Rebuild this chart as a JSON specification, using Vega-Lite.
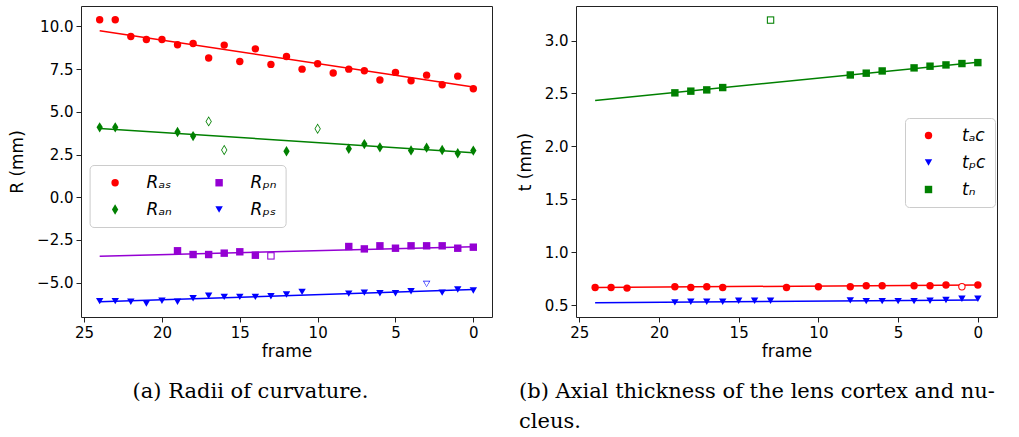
{
  "$schema": "https://vega.github.io/schema/vega-lite/v6.json",
  "padding": {"left": 8, "top": 5, "right": 0, "bottom": 0},
  "bounds": "flush",
  "spacing": 84,
  "background": "white",
  "resolve": {"scale": {"color": "independent", "shape": "independent"}, "legend": {"color": "independent", "shape": "independent"}},
  "config": {
    "font": "DejaVu Sans",
    "view": {"stroke": "#222222", "strokeWidth": 1},
    "axis": {"grid": false, "domain": false, "tickSize": 5, "tickColor": "#222222", "labelFontSize": 15, "labelColor": "black", "labelPadding": 3, "titleFontSize": 17, "titleFontWeight": "normal", "titleColor": "black", "labelFlush": false},
    "title": {"font": "DejaVu Serif", "fontSize": 21, "fontWeight": "normal", "color": "black"},
    "legend": {"fillColor": "white", "strokeColor": "#cccccc", "cornerRadius": 4, "labelFontSize": 17, "labelFontStyle": "italic", "labelColor": "black", "symbolSize": 55, "padding": 9}
  },
  "datasets": {
    "leftPoints": [
      {"series": "R_as", "frame": 24, "value": 10.39, "out": false},
      {"series": "R_as", "frame": 23, "value": 10.39, "out": false},
      {"series": "R_as", "frame": 22, "value": 9.41, "out": false},
      {"series": "R_as", "frame": 21, "value": 9.24, "out": false},
      {"series": "R_as", "frame": 20, "value": 9.24, "out": false},
      {"series": "R_as", "frame": 19, "value": 8.93, "out": false},
      {"series": "R_as", "frame": 18, "value": 9.0, "out": false},
      {"series": "R_as", "frame": 17, "value": 8.15, "out": false},
      {"series": "R_as", "frame": 16, "value": 8.91, "out": false},
      {"series": "R_as", "frame": 15, "value": 7.95, "out": false},
      {"series": "R_as", "frame": 14, "value": 8.69, "out": false},
      {"series": "R_as", "frame": 13, "value": 7.78, "out": false},
      {"series": "R_as", "frame": 12, "value": 8.24, "out": false},
      {"series": "R_as", "frame": 11, "value": 7.5, "out": false},
      {"series": "R_as", "frame": 10, "value": 7.82, "out": false},
      {"series": "R_as", "frame": 9, "value": 7.27, "out": false},
      {"series": "R_as", "frame": 8, "value": 7.5, "out": false},
      {"series": "R_as", "frame": 7, "value": 7.41, "out": false},
      {"series": "R_as", "frame": 6, "value": 6.86, "out": false},
      {"series": "R_as", "frame": 5, "value": 7.31, "out": false},
      {"series": "R_as", "frame": 4, "value": 6.82, "out": false},
      {"series": "R_as", "frame": 3, "value": 7.15, "out": false},
      {"series": "R_as", "frame": 2, "value": 6.59, "out": false},
      {"series": "R_as", "frame": 1, "value": 7.09, "out": false},
      {"series": "R_as", "frame": 0, "value": 6.35, "out": false},
      {"series": "R_an", "frame": 24, "value": 4.09, "out": false},
      {"series": "R_an", "frame": 23, "value": 4.09, "out": false},
      {"series": "R_an", "frame": 19, "value": 3.82, "out": false},
      {"series": "R_an", "frame": 18, "value": 3.58, "out": false},
      {"series": "R_an", "frame": 17, "value": 4.44, "out": true},
      {"series": "R_an", "frame": 16, "value": 2.76, "out": true},
      {"series": "R_an", "frame": 12, "value": 2.69, "out": false},
      {"series": "R_an", "frame": 10, "value": 4.01, "out": true},
      {"series": "R_an", "frame": 8, "value": 2.84, "out": false},
      {"series": "R_an", "frame": 7, "value": 3.11, "out": false},
      {"series": "R_an", "frame": 6, "value": 2.92, "out": false},
      {"series": "R_an", "frame": 4, "value": 2.74, "out": false},
      {"series": "R_an", "frame": 3, "value": 2.9, "out": false},
      {"series": "R_an", "frame": 2, "value": 2.76, "out": false},
      {"series": "R_an", "frame": 1, "value": 2.57, "out": false},
      {"series": "R_an", "frame": 0, "value": 2.73, "out": false},
      {"series": "R_pn", "frame": 19, "value": -3.14, "out": false},
      {"series": "R_pn", "frame": 18, "value": -3.36, "out": false},
      {"series": "R_pn", "frame": 17, "value": -3.36, "out": false},
      {"series": "R_pn", "frame": 16, "value": -3.28, "out": false},
      {"series": "R_pn", "frame": 15, "value": -3.2, "out": false},
      {"series": "R_pn", "frame": 14, "value": -3.4, "out": false},
      {"series": "R_pn", "frame": 13, "value": -3.44, "out": true},
      {"series": "R_pn", "frame": 8, "value": -2.89, "out": false},
      {"series": "R_pn", "frame": 7, "value": -3.03, "out": false},
      {"series": "R_pn", "frame": 6, "value": -2.85, "out": false},
      {"series": "R_pn", "frame": 5, "value": -2.99, "out": false},
      {"series": "R_pn", "frame": 4, "value": -2.85, "out": false},
      {"series": "R_pn", "frame": 3, "value": -2.85, "out": false},
      {"series": "R_pn", "frame": 2, "value": -2.85, "out": false},
      {"series": "R_pn", "frame": 1, "value": -2.99, "out": false},
      {"series": "R_pn", "frame": 0, "value": -2.93, "out": false},
      {"series": "R_ps", "frame": 24, "value": -6.09, "out": false},
      {"series": "R_ps", "frame": 23, "value": -6.09, "out": false},
      {"series": "R_ps", "frame": 22, "value": -6.13, "out": false},
      {"series": "R_ps", "frame": 21, "value": -6.23, "out": false},
      {"series": "R_ps", "frame": 20, "value": -6.07, "out": false},
      {"series": "R_ps", "frame": 19, "value": -6.13, "out": false},
      {"series": "R_ps", "frame": 18, "value": -5.92, "out": false},
      {"series": "R_ps", "frame": 17, "value": -5.78, "out": false},
      {"series": "R_ps", "frame": 16, "value": -5.84, "out": false},
      {"series": "R_ps", "frame": 15, "value": -5.84, "out": false},
      {"series": "R_ps", "frame": 14, "value": -5.84, "out": false},
      {"series": "R_ps", "frame": 13, "value": -5.8, "out": false},
      {"series": "R_ps", "frame": 12, "value": -5.7, "out": false},
      {"series": "R_ps", "frame": 11, "value": -5.55, "out": false},
      {"series": "R_ps", "frame": 8, "value": -5.65, "out": false},
      {"series": "R_ps", "frame": 7, "value": -5.59, "out": false},
      {"series": "R_ps", "frame": 6, "value": -5.63, "out": false},
      {"series": "R_ps", "frame": 5, "value": -5.63, "out": false},
      {"series": "R_ps", "frame": 4, "value": -5.51, "out": false},
      {"series": "R_ps", "frame": 3, "value": -5.08, "out": true},
      {"series": "R_ps", "frame": 2, "value": -5.59, "out": false},
      {"series": "R_ps", "frame": 1, "value": -5.41, "out": false},
      {"series": "R_ps", "frame": 0, "value": -5.47, "out": false}
    ],
    "leftLines": [
      {"series": "R_as", "frame": 24, "value": 9.75},
      {"series": "R_as", "frame": 0, "value": 6.45},
      {"series": "R_an", "frame": 24, "value": 4.03},
      {"series": "R_an", "frame": 0, "value": 2.6},
      {"series": "R_pn", "frame": 24, "value": -3.46},
      {"series": "R_pn", "frame": 0, "value": -2.91},
      {"series": "R_ps", "frame": 24, "value": -6.13},
      {"series": "R_ps", "frame": 0, "value": -5.41}
    ],
    "rightPoints": [
      {"series": "t_ac", "frame": 24, "value": 0.666, "out": false},
      {"series": "t_ac", "frame": 23, "value": 0.666, "out": false},
      {"series": "t_ac", "frame": 22, "value": 0.66, "out": false},
      {"series": "t_ac", "frame": 19, "value": 0.673, "out": false},
      {"series": "t_ac", "frame": 18, "value": 0.666, "out": false},
      {"series": "t_ac", "frame": 17, "value": 0.673, "out": false},
      {"series": "t_ac", "frame": 16, "value": 0.666, "out": false},
      {"series": "t_ac", "frame": 12, "value": 0.666, "out": false},
      {"series": "t_ac", "frame": 10, "value": 0.673, "out": false},
      {"series": "t_ac", "frame": 8, "value": 0.673, "out": false},
      {"series": "t_ac", "frame": 7, "value": 0.682, "out": false},
      {"series": "t_ac", "frame": 6, "value": 0.682, "out": false},
      {"series": "t_ac", "frame": 4, "value": 0.682, "out": false},
      {"series": "t_ac", "frame": 3, "value": 0.682, "out": false},
      {"series": "t_ac", "frame": 2, "value": 0.689, "out": false},
      {"series": "t_ac", "frame": 1, "value": 0.673, "out": true},
      {"series": "t_ac", "frame": 0, "value": 0.689, "out": false},
      {"series": "t_pc", "frame": 19, "value": 0.525, "out": false},
      {"series": "t_pc", "frame": 18, "value": 0.531, "out": false},
      {"series": "t_pc", "frame": 17, "value": 0.531, "out": false},
      {"series": "t_pc", "frame": 16, "value": 0.531, "out": false},
      {"series": "t_pc", "frame": 15, "value": 0.541, "out": false},
      {"series": "t_pc", "frame": 14, "value": 0.541, "out": false},
      {"series": "t_pc", "frame": 13, "value": 0.541, "out": false},
      {"series": "t_pc", "frame": 8, "value": 0.544, "out": false},
      {"series": "t_pc", "frame": 7, "value": 0.537, "out": false},
      {"series": "t_pc", "frame": 6, "value": 0.537, "out": false},
      {"series": "t_pc", "frame": 5, "value": 0.537, "out": false},
      {"series": "t_pc", "frame": 4, "value": 0.537, "out": false},
      {"series": "t_pc", "frame": 3, "value": 0.541, "out": false},
      {"series": "t_pc", "frame": 2, "value": 0.547, "out": false},
      {"series": "t_pc", "frame": 1, "value": 0.559, "out": false},
      {"series": "t_pc", "frame": 0, "value": 0.559, "out": false},
      {"series": "t_n", "frame": 19, "value": 2.506, "out": false},
      {"series": "t_n", "frame": 18, "value": 2.522, "out": false},
      {"series": "t_n", "frame": 17, "value": 2.534, "out": false},
      {"series": "t_n", "frame": 16, "value": 2.556, "out": false},
      {"series": "t_n", "frame": 13, "value": 3.194, "out": true},
      {"series": "t_n", "frame": 8, "value": 2.675, "out": false},
      {"series": "t_n", "frame": 7, "value": 2.692, "out": false},
      {"series": "t_n", "frame": 6, "value": 2.713, "out": false},
      {"series": "t_n", "frame": 4, "value": 2.742, "out": false},
      {"series": "t_n", "frame": 3, "value": 2.758, "out": false},
      {"series": "t_n", "frame": 2, "value": 2.77, "out": false},
      {"series": "t_n", "frame": 1, "value": 2.783, "out": false},
      {"series": "t_n", "frame": 0, "value": 2.792, "out": false}
    ],
    "rightLines": [
      {"series": "t_ac", "frame": 24, "value": 0.666},
      {"series": "t_ac", "frame": 0, "value": 0.69},
      {"series": "t_pc", "frame": 24, "value": 0.522},
      {"series": "t_pc", "frame": 0, "value": 0.547},
      {"series": "t_n", "frame": 24, "value": 2.434},
      {"series": "t_n", "frame": 0, "value": 2.795}
    ]
  },
  "hconcat": [
    {
      "width": 411,
      "height": 311,
      "title": {"text": "(a) Radii of curvature.", "orient": "bottom", "anchor": "middle", "frame": "group", "dx": -36, "offset": 22},
      "encoding": {
        "x": {"field": "frame", "type": "quantitative", "scale": {"domain": [-1.2, 25.2], "reverse": true, "nice": false, "zero": false}, "axis": {"title": "frame", "values": [0, 5, 10, 15, 20, 25], "format": "d", "titlePadding": 3}},
        "y": {"field": "value", "type": "quantitative", "scale": {"domain": [-7.02, 11.2], "nice": false, "zero": false}, "axis": {"title": "R (mm)", "values": [-5, -2.5, 0, 2.5, 5, 7.5, 10], "format": ".1f", "titlePadding": 10}}
      },
      "layer": [
        {"data": {"name": "leftLines"}, "transform": [{"filter": "datum.series === 'R_as'"}], "mark": {"type": "line", "strokeWidth": 1.5, "color": "#ff0000"}},
        {"data": {"name": "leftLines"}, "transform": [{"filter": "datum.series === 'R_an'"}], "mark": {"type": "line", "strokeWidth": 1.5, "color": "#008000"}},
        {"data": {"name": "leftLines"}, "transform": [{"filter": "datum.series === 'R_pn'"}], "mark": {"type": "line", "strokeWidth": 1.5, "color": "#9400d3"}},
        {"data": {"name": "leftLines"}, "transform": [{"filter": "datum.series === 'R_ps'"}], "mark": {"type": "line", "strokeWidth": 1.5, "color": "#0000ff"}},
        {
          "data": {"name": "leftPoints"},
          "mark": {"type": "point", "filled": true, "opacity": 1, "size": 55},
          "encoding": {
            "color": {"field": "series", "type": "nominal", "scale": {"domain": ["R_as", "R_an", "R_pn", "R_ps"], "range": ["#ff0000", "#008000", "#9400d3", "#0000ff"]},
              "legend": {"title": null, "orient": "none", "legendX": 8.6, "legendY": 159, "columns": 2, "columnPadding": 30, "rowPadding": 9, "symbolOffset": 8, "labelOffset": 23,
                "labelExpr": "{'R_as': 'Rₐₛ', 'R_an': 'Rₐₙ', 'R_pn': 'Rₚₙ', 'R_ps': 'Rₚₛ'}[datum.label]"}},
            "shape": {"field": "series", "type": "nominal", "scale": {"domain": ["R_as", "R_an", "R_pn", "R_ps"], "range": ["circle", "M0,-1.4L0.85,0L0,1.4L-0.85,0Z", "square", "triangle-down"]},
              "legend": {"title": null, "orient": "none", "legendX": 8.6, "legendY": 159, "columns": 2, "columnPadding": 30, "rowPadding": 9, "symbolOffset": 8, "labelOffset": 23,
                "labelExpr": "{'R_as': 'Rₐₛ', 'R_an': 'Rₐₙ', 'R_pn': 'Rₚₙ', 'R_ps': 'Rₚₛ'}[datum.label]"}}
          }
        },
        {
          "data": {"name": "leftPoints"},
          "transform": [{"filter": "datum.out"}],
          "mark": {"type": "point", "filled": true, "opacity": 1, "size": 28, "color": "white"},
          "encoding": {
            "shape": {"field": "series", "type": "nominal"}
          }
        }
      ]
    },
    {
      "width": 421,
      "height": 311,
      "title": {"text": ["(b) Axial thickness of the lens cortex and nu-", "\u00a0\u00a0\u00a0\u00a0\u00a0cleus."], "orient": "bottom", "anchor": "start", "frame": "group", "dx": -57, "offset": 22, "lineHeight": 30},
      "encoding": {
        "x": {"field": "frame", "type": "quantitative", "scale": {"domain": [-1.2, 25.2], "reverse": true, "nice": false, "zero": false}, "axis": {"title": "frame", "values": [0, 5, 10, 15, 20, 25], "format": "d", "titlePadding": 3}},
        "y": {"field": "value", "type": "quantitative", "scale": {"domain": [0.387, 3.327], "nice": false, "zero": false}, "axis": {"title": "t (mm)", "values": [0.5, 1, 1.5, 2, 2.5, 3], "format": ".1f", "titlePadding": 10}}
      },
      "layer": [
        {"data": {"name": "rightLines"}, "transform": [{"filter": "datum.series === 't_ac'"}], "mark": {"type": "line", "strokeWidth": 1.5, "color": "#ff0000"}},
        {"data": {"name": "rightLines"}, "transform": [{"filter": "datum.series === 't_pc'"}], "mark": {"type": "line", "strokeWidth": 1.5, "color": "#0000ff"}},
        {"data": {"name": "rightLines"}, "transform": [{"filter": "datum.series === 't_n'"}], "mark": {"type": "line", "strokeWidth": 1.5, "color": "#008000"}},
        {
          "data": {"name": "rightPoints"},
          "mark": {"type": "point", "filled": true, "opacity": 1, "size": 55},
          "encoding": {
            "color": {"field": "series", "type": "nominal", "scale": {"domain": ["t_ac", "t_pc", "t_n"], "range": ["#ff0000", "#0000ff", "#008000"]},
              "legend": {"title": null, "orient": "none", "legendX": 329, "legendY": 112, "rowPadding": 9, "symbolOffset": 6, "labelOffset": 25,
                "labelExpr": "{'t_ac': 'tₐc', 't_pc': 'tₚc', 't_n': 'tₙ'}[datum.label]"}},
            "shape": {"field": "series", "type": "nominal", "scale": {"domain": ["t_ac", "t_pc", "t_n"], "range": ["circle", "triangle-down", "square"]},
              "legend": {"title": null, "orient": "none", "legendX": 329, "legendY": 112, "rowPadding": 9, "symbolOffset": 6, "labelOffset": 25,
                "labelExpr": "{'t_ac': 'tₐc', 't_pc': 'tₚc', 't_n': 'tₙ'}[datum.label]"}}
          }
        },
        {
          "data": {"name": "rightPoints"},
          "transform": [{"filter": "datum.out"}],
          "mark": {"type": "point", "filled": true, "opacity": 1, "size": 28, "color": "white"},
          "encoding": {
            "shape": {"field": "series", "type": "nominal"}
          }
        }
      ]
    }
  ]
}
